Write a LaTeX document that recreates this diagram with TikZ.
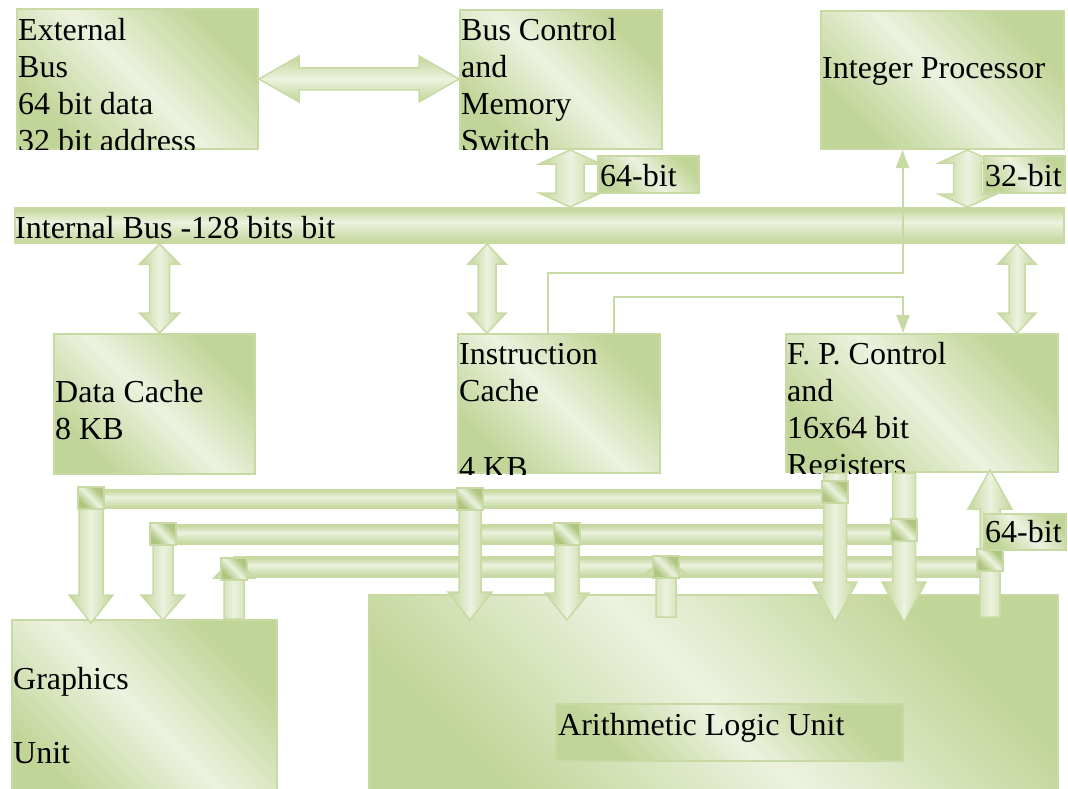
\documentclass[tikz,border=0pt]{standalone}
\usepackage{fontspec}
\setmainfont{Liberation Serif}
\usetikzlibrary{positioning}
\usetikzlibrary{calc, arrows.meta}

\definecolor{gdark}{RGB}{194,213,152}
\definecolor{glight}{RGB}{236,242,223}
\definecolor{gline}{RGB}{199,218,163}
\definecolor{gsq}{RGB}{176,198,128}

\pgfdeclarehorizontalshading{boxshade}{100bp}{color(0bp)=(gdark); color(27bp)=(gdark); color(50bp)=(glight); color(73bp)=(gdark); color(100bp)=(gdark)}
\pgfdeclareverticalshading{barshade}{100bp}{color(0bp)=(gdark); color(25bp)=(gdark); color(55bp)=(glight); color(75bp)=(gdark); color(100bp)=(gdark)}
\pgfdeclarehorizontalshading{armshade}{100bp}{color(0bp)=(gdark); color(25bp)=(gdark); color(50bp)=(glight); color(75bp)=(gdark); color(100bp)=(gdark)}
\pgfdeclarehorizontalshading{sqshade}{100bp}{color(0bp)=(gsq); color(30bp)=(gsq); color(50bp)=(glight); color(70bp)=(gsq); color(100bp)=(gsq)}

\tikzset{
  box/.style={draw=gline, line width=2pt, shade, shading=boxshade, shading angle=45, inner sep=0pt, anchor=north west},
  bar/.style={draw=gline, line width=2pt, shade, shading=barshade, inner sep=0pt, anchor=north west},
  busbar/.style={draw=gline, line width=1.5pt, shade, shading=barshade},
  blockarrow/.style={draw=gline, line width=1.5pt, shade, shading=armshade},
  sq/.style={draw=gline, line width=1.5pt, shade, shading=sqshade, shading angle=45, minimum width=26pt, minimum height=22pt, inner sep=0pt},
  txt/.style={inner sep=0pt, anchor=north west, align=left},
  sig/.style={draw=gline, line width=2pt, -{Triangle[length=18pt, width=13pt]}}
}

% single block arrow, vertical: tail, tip, half shaft, half head, head length
\newcommand{\blockv}[5]{%
  \path[blockarrow] let \p1=(#1), \p2=(#2), \n1={sign(\y2-\y1)*#5} in
    ({\x1-#3},\y1) -- ({\x1-#3},{\y2-\n1}) -- ({\x1-#4},{\y2-\n1}) -- (\x1,\y2)
    -- ({\x1+#4},{\y2-\n1}) -- ({\x1+#3},{\y2-\n1}) -- ({\x1+#3},\y1) -- cycle;}
% double block arrow, vertical
\newcommand{\blockvv}[5]{%
  \path[blockarrow] let \p1=(#1), \p2=(#2), \n1={sign(\y2-\y1)*#5} in
    (\x1,\y1) -- ({\x1+#4},{\y1+\n1}) -- ({\x1+#3},{\y1+\n1}) -- ({\x1+#3},{\y2-\n1})
    -- ({\x1+#4},{\y2-\n1}) -- (\x1,\y2) -- ({\x1-#4},{\y2-\n1}) -- ({\x1-#3},{\y2-\n1})
    -- ({\x1-#3},{\y1+\n1}) -- ({\x1-#4},{\y1+\n1}) -- cycle;}
% double block arrow, horizontal (left to right)
\newcommand{\blockhh}[5]{%
  \path[blockarrow, shading angle=90] let \p1=(#1), \p2=(#2) in
    (\x1,\y1) -- ({\x1+#5},{\y1+#4}) -- ({\x1+#5},{\y1+#3}) -- ({\x2-#5},{\y1+#3}) -- ({\x2-#5},{\y1+#4})
    -- (\x2,\y1) -- ({\x2-#5},{\y1-#4}) -- ({\x2-#5},{\y1-#3}) -- ({\x1+#5},{\y1-#3}) -- ({\x1+#5},{\y1-#4}) -- cycle;}

\begin{document}
\begin{tikzpicture}[x=1pt, y=-1pt, font=\fontsize{32}{37}\selectfont]
\useasboundingbox (0,0) rectangle (1068,789);

% Top row
\node[box, minimum width=241pt, minimum height=140pt] (ext) at (16,8) {};
\node[box, minimum width=202pt, minimum height=139pt] (busctl) at (459,9) {};
\node[box, minimum width=243pt, minimum height=138pt] (intproc) at (820,10) {};

% Internal bus
\node[bar, minimum width=1049pt, minimum height=35pt] (ibus) at (14,207) {};

% Caches and FP control
\node[box, minimum width=201pt, minimum height=140pt] (dcache) at (53,333) {};
\node[box, minimum width=202pt, minimum height=139pt] (icache) at (457,333) {};
\node[box, minimum width=272pt, minimum height=138pt] (fpctl) at (785,333) {};

% Graphics and ALU
\node[box, minimum width=265pt, minimum height=190pt] (gfx) at (11,619) {};
\node[box, minimum width=689pt, minimum height=210pt] (alu) at (368,594) {};
\node[box, minimum width=347pt, minimum height=57pt] (alulbl) at (555,703) {};

% Texts
\begin{scope}
\clip (ext.south west) rectangle (ext.north east);
\node[txt] (ext text) at ($(ext.north west)+(2,10)$) {External\\Bus\\64 bit data\\32 bit address};
\end{scope}
\begin{scope}
\clip (busctl.south west) rectangle (busctl.north east);
\node[txt] (busctl text) at ($(busctl.north west)+(2,9)$) {Bus Control\\and\\Memory\\Switch};
\end{scope}
\node[txt] (intproc text) at ($(intproc.north west)+(2,47)$) {Integer Processor};
\node[txt] (ibus text) at ($(ibus.north west)+(1,9)$) {Internal Bus -128 bits bit};
\node[txt] (dcache text) at ($(dcache.north west)+(2,47)$) {Data Cache\\8 KB};
\begin{scope}
\clip (icache.south west) rectangle (icache.north east);
\node[txt] (icache text) at ($(icache.north west)+(2,10)$) {Instruction\\Cache\\[40pt]4 KB};
\end{scope}
\begin{scope}
\clip (fpctl.south west) rectangle (fpctl.north east);
\node[txt] (fpctl text) at ($(fpctl.north west)+(2,9)$) {F. P. Control\\and\\16x64 bit\\Registers};
\end{scope}
\node[txt] (gfx text) at ($(gfx.north west)+(2,48)$) {Graphics\\[37pt]Unit};
\node[txt] (alulbl text) at ($(alulbl.north west)+(3,10)$) {Arithmetic Logic Unit};

% Block arrows, upper part
\blockhh{ext.east}{busctl.west}{11}{23}{40}
\blockvv{[xshift=9pt]busctl.south}{ibus.north}{14}{31}{14}
\blockvv{[xshift=25pt]intproc.south}{ibus.north}{14}{29}{13}
\blockvv{[xshift=5pt]dcache.north}{ibus.south}{10}{20}{20}
\blockvv{[xshift=-72pt]icache.north}{ibus.south}{9}{19}{20}
\blockvv{[xshift=95pt]fpctl.north}{ibus.south}{8}{19}{20}

% Thin signal lines
\draw[sig] ([xshift=-11pt]icache.north) -- ++(0,-60) -| ([xshift=-40pt]intproc.south);
\draw[sig] ([xshift=55pt]icache.north) -- ++(0,-36) -| ([xshift=-19pt]fpctl.north);

% Width labels
\node[box, minimum width=101pt, minimum height=37pt] (lbl64a) at (597,155) {};
\node[txt] (lbl64a text) at ($(lbl64a.north west)+(3,9)$) {64-bit};
\node[box, minimum width=81pt, minimum height=37pt] (lbl32) at (983,155) {};
\node[txt] (lbl32 text) at ($(lbl32.north west)+(2,9)$) {32-bit};

% Lower bus junctions
\coordinate (s1a) at (91,498);
\coordinate (s1b) at (470,499);
\coordinate (s1c) at (835,492);
\coordinate (s2a) at (163,534);
\coordinate (s2b) at (567,534);
\coordinate (s2c) at (904,530);
\coordinate (s3a) at (234,569);
\coordinate (s3b) at (666,567);
\coordinate (s3c) at (990,560);

% Lower bus bars
\path[busbar] ($(s1a)+(0,-8)$) rectangle ($(s1c |- s1a)+(0,10)$);
\path[busbar] ($(s2a)+(0,-9)$) rectangle ($(s2c |- s2a)+(0,10)$);
\path[busbar] ($(s3a)+(0,-12)$) rectangle ($(s3c |- s3a)+(0,8)$);

% Block arrows, lower part
\blockv{$(s1a)+(0,11)$}{[yshift=-4pt]gfx.north}{12}{22}{28}
\blockv{$(s2a)+(0,11)$}{[yshift=-1pt]gfx.north}{10}{22}{25}
\blockv{s3a |- gfx.north}{$(s3a)+(0,-11)$}{10}{20}{20}
\blockv{$(s1b)+(0,11)$}{[yshift=-26pt]alu.north}{11}{22}{28}
\blockv{$(s2b)+(0,9)$}{[yshift=-26pt]alu.north}{12}{22}{27}
\blockv{$(s3b |- alu.north)+(0,23)$}{$(s3b)+(0,-10)$}{10}{22}{18}
\blockv{s1c |- fpctl.south}{[yshift=-28pt]alu.north}{11.5}{22}{40}
\blockv{s2c |- fpctl.south}{[yshift=-28pt]alu.north}{11.5}{22}{40}
\blockv{$(s3c |- alu.north)+(0,23)$}{[yshift=3pt]fpctl.south}{10}{22}{39}

% Junction squares
\foreach \s in {s1a,s1b,s1c,s2a,s2b,s2c,s3a,s3b,s3c}
  \node[sq] (\s j) at (\s) {};

\node[box, minimum width=82pt, minimum height=36pt] (lbl64b) at (983,513) {};
\node[txt] (lbl64b text) at ($(lbl64b.north west)+(2,7)$) {64-bit};

\end{tikzpicture}
\end{document}
